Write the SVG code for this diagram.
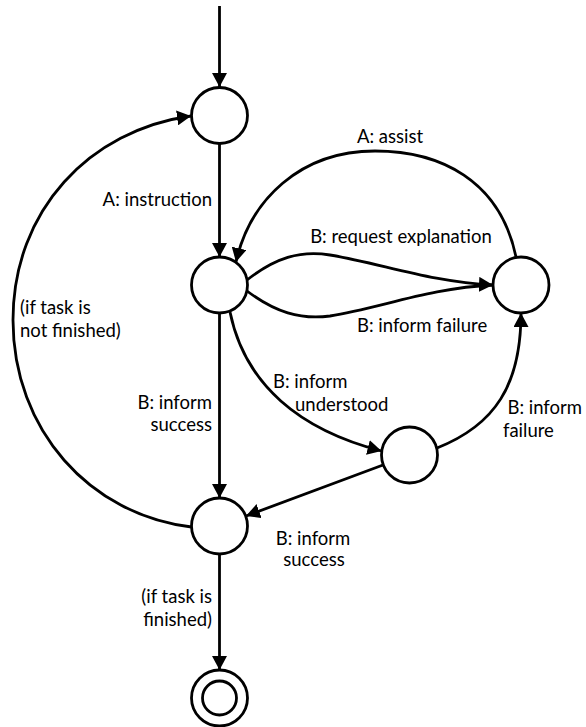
<svg xmlns="http://www.w3.org/2000/svg" width="586" height="727" viewBox="0 0 586 727">
<defs>
<style>
.n{fill:#fff;stroke:#000;stroke-width:2.8}
.e{fill:none;stroke:#000;stroke-width:2.8}
.a{marker-end:url(#arr)}
text{font-family:Lato,"Open Sans","DejaVu Sans",sans-serif;font-size:18.5px;fill:#000}
.m{text-anchor:middle}
.r{text-anchor:end}
</style>
<marker id="arr" markerUnits="userSpaceOnUse" markerWidth="15" markerHeight="15" refX="14" refY="7.5" orient="auto">
<path d="M0,0 L14,7.5 L0,15 z" fill="#000"/>
</marker>
</defs>
<rect width="586" height="727" fill="#fff"/>
<g id="connectors">
<path class="e a" d="M219.5,6 L219.5,87"/>
<path class="e a" d="M219.5,144 L219.5,257"/>
<path class="e a" d="M516,257 C500,180 440,151 375,151 C300,151 250,200 236,262"/>
<path class="e a" d="M247,280 C275,258 300,250 330,255 C380,263 430,282 493,285"/>
<path class="e" d="M247,291 C275,312 300,320 330,316 C380,308 430,288 493,285"/>
<path class="e a" d="M230,312 C245,385 300,430 381.5,451"/>
<path class="e a" d="M219.5,313 L219.5,498"/>
<path class="e a" d="M437,448 C495,425 521,385 521,313"/>
<path class="e a" d="M383,465 L246,516"/>
<path class="e a" d="M191.5,527 C90,515 13,430 13,320 C13,210 90,130 191,116"/>
<path class="e a" d="M219.5,554 L219.5,670"/>
</g>
<g id="s1"><circle class="n" cx="219.5" cy="115.5" r="28"/></g>
<g id="s2"><circle class="n" cx="219.5" cy="285" r="28"/></g>
<g id="s3"><circle class="n" cx="521" cy="285" r="28"/></g>
<g id="s4"><circle class="n" cx="409.5" cy="455" r="28"/></g>
<g id="s5"><circle class="n" cx="219.5" cy="526" r="28"/></g>
<g id="final"><circle class="n" cx="219.5" cy="698" r="28"/><circle class="n" cx="219.5" cy="698" r="17"/></g>
<g id="labels">
<text class="r" x="212" y="206">A: instruction</text>
<text class="m" x="390" y="143">A: assist</text>
<text class="m" x="401" y="243">B: request explanation</text>
<text x="357" y="332">B: inform failure</text>
<text x="273" y="388">B: inform</text>
<text x="295" y="411">understood</text>
<text class="r" x="212" y="409">B: inform</text>
<text class="r" x="212" y="431">success</text>
<text class="r" x="582" y="414">B: inform</text>
<text x="503" y="437">failure</text>
<text class="m" x="313" y="545">B: inform</text>
<text class="m" x="314" y="566">success</text>
<text x="20" y="314">(if task is</text>
<text x="20" y="337">not finished)</text>
<text class="r" x="212" y="603">(if task is</text>
<text class="r" x="212" y="626">finished)</text>
</g>
</svg>
